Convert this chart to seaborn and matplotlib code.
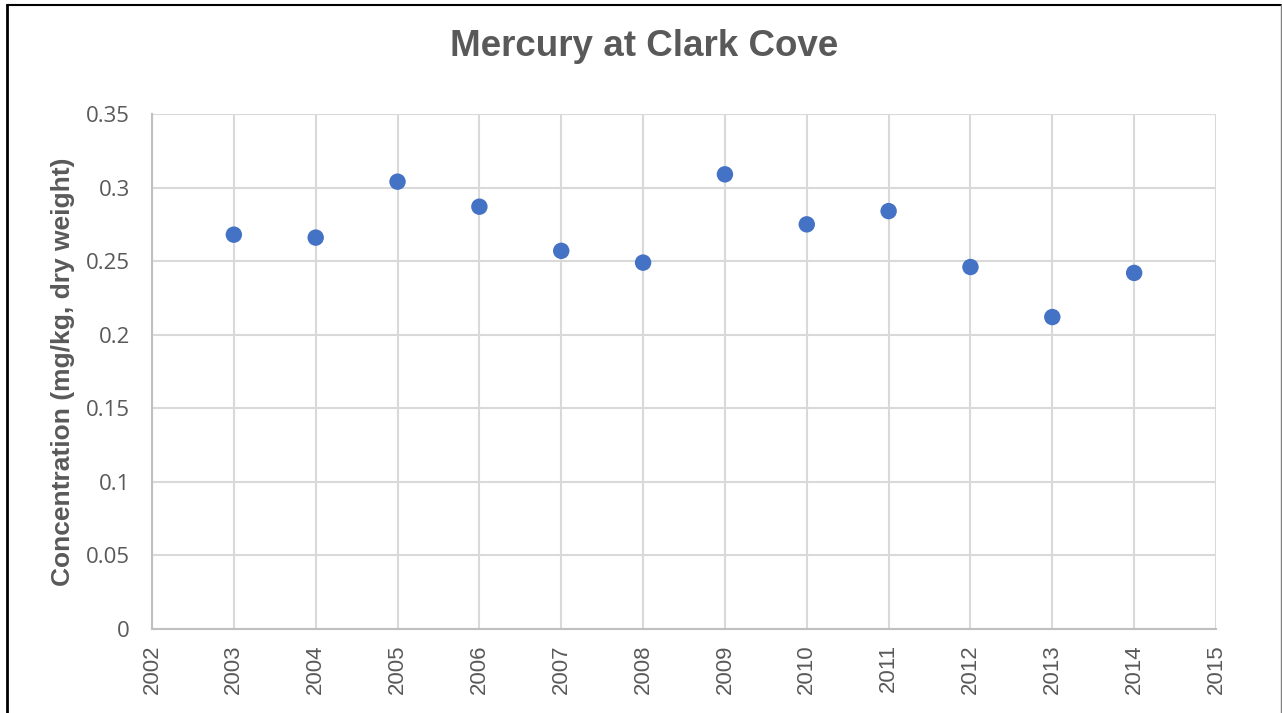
import matplotlib
matplotlib.use('Agg')
import matplotlib.pyplot as plt
from matplotlib.lines import Line2D
import seaborn as sns
import pandas as pd

# Data
years = [2003, 2004, 2005, 2006, 2007, 2008, 2009, 2010, 2011, 2012, 2013, 2014]
mercury = [0.268, 0.266, 0.304, 0.287, 0.257, 0.249, 0.309, 0.275, 0.284, 0.246, 0.212, 0.242]
x_ticks = list(range(2002, 2016))
y_ticks = [0, 0.05, 0.1, 0.15, 0.2, 0.25, 0.3, 0.35]
y_tick_labels = ['0', '0.05', '0.1', '0.15', '0.2', '0.25', '0.3', '0.35']

df = pd.DataFrame({'Year': years, 'Mercury': mercury})

sns.set_style("white")
plt.rcParams['font.family'] = ['Liberation Sans', 'DejaVu Sans']

W, H = 1282, 713
fig = plt.figure(figsize=(W / 100, H / 100), dpi=100)
ax = fig.add_axes([152 / W, 1 - 629 / H, (1216 - 152) / W, (629 - 114) / H])

sns.scatterplot(data=df, x='Year', y='Mercury', color='#4472C4', s=140,
                edgecolor='none', ax=ax, zorder=3)

ax.set_xlim(2002, 2015)
ax.set_ylim(0, 0.35)
ax.set_xticks(x_ticks)
ax.set_xticklabels([str(t) for t in x_ticks], rotation=90, fontsize=16, color='#595959')
ax.set_yticks(y_ticks)
ax.set_yticklabels(y_tick_labels, fontsize=16, color='#595959', family=['Open Sans', 'DejaVu Sans'])
ax.tick_params(axis='x', length=0, pad=11)
ax.tick_params(axis='y', length=0, pad=16)
ax.grid(True, color='#d9d9d9', linewidth=1.5)
ax.set_axisbelow(True)
for side in ['top', 'right']:
    ax.spines[side].set_visible(False)
for side in ['left', 'bottom']:
    ax.spines[side].set_color('#bfbfbf')
    ax.spines[side].set_linewidth(1.5)

ax.set_xlabel('')
ax.set_ylabel('Concentration (mg/kg, dry weight)', fontsize=19, fontweight='bold',
              color='#595959', labelpad=8)

fig.text(644 / W, 1 - 47 / H, 'Mercury at Clark Cove', ha='center', va='center',
         fontsize=26.5, fontweight='bold', color='#595959')

# Outer frame (bottom edge cropped away in the reference)
fig.add_artist(Line2D([7 / W, 7 / W], [0, 1 - 5 / H], color='black', linewidth=2))
fig.add_artist(Line2D([7 / W, 1281 / W], [1 - 5 / H, 1 - 5 / H], color='black', linewidth=1.5))
fig.add_artist(Line2D([1281 / W, 1281 / W], [0, 1 - 5 / H], color='#808080', linewidth=1))

plt.savefig('out.png', dpi=100)
plt.close()
